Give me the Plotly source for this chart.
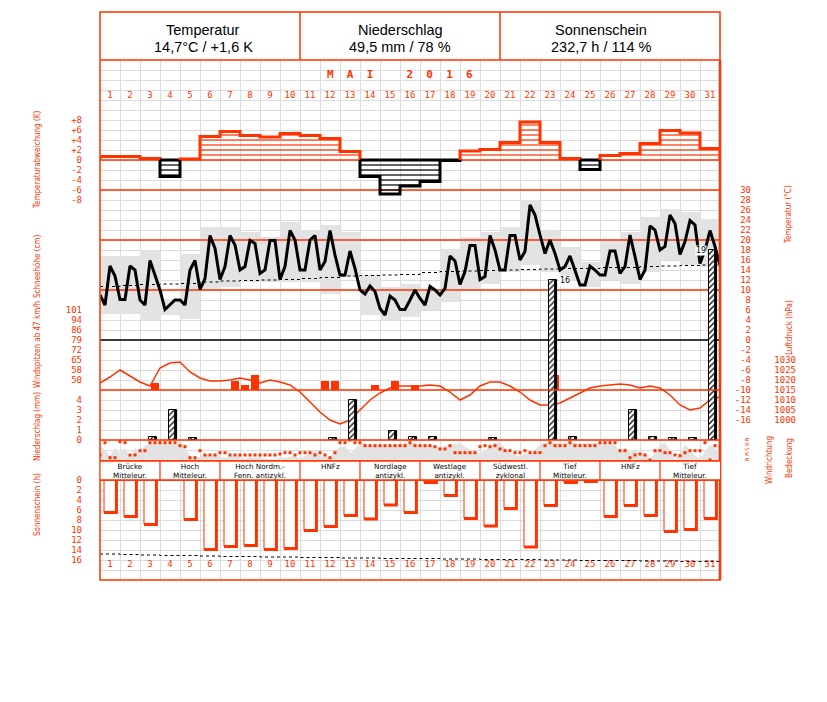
import plotly.graph_objects as go

# ---------------- data ----------------
days = list(range(1, 32))
month_title = "<b>M  A  I     2  0  1  6</b>"
header_titles = ["Temperatur", "Niederschlag", "Sonnenschein"]
header_values = ["14,7°C / +1,6 K", "49,5 mm / 78 %", "232,7 h / 114 %"]

# daily temperature deviation (K)
temp_dev = [0.7, 0.7, 0.3, -3.3, 0.2, 4.7, 5.7, 4.9, 4.6, 5.3, 4.9, 4.3, 1.7, -3.3, -6.8, -5.2,
            -4.3, -0.1, 1.8, 2.1, 3.5, 7.6, 3.5, 0.3, -1.9, 0.9, 1.3, 3.3, 5.9, 5.4, 2.3]

# 6-hourly air temperature (°C), 4 per day + final value
temp_6h = [9.0, 7.0, 14.8, 12.8, 8.1, 8.1, 14.8, 14.0, 8.0, 7.0, 15.9, 13.0, 10.0, 6.1, 7.0, 8.0,
           8.0, 7.0, 14.0, 15.9, 10.1, 12.3, 20.9, 18.3, 12.1, 14.7, 20.9, 19.0, 14.0, 14.7, 19.9, 19.3,
           13.3, 14.0, 19.9, 19.9, 12.1, 14.7, 21.9, 20.0, 14.0, 14.0, 20.0, 20.9, 14.0, 15.7, 21.9, 17.0,
           13.0, 13.0, 17.8, 14.3, 10.0, 9.2, 10.8, 9.7, 6.3, 5.0, 8.8, 8.0, 6.1, 6.1, 8.0, 10.0,
           8.3, 7.0, 10.7, 10.0, 9.0, 10.3, 16.8, 15.8, 11.1, 13.7, 18.9, 18.9, 12.1, 12.7, 20.9, 18.0,
           14.0, 14.0, 20.9, 20.9, 16.0, 17.7, 27.0, 25.0, 21.0, 17.3, 20.0, 17.3, 14.0, 14.7, 16.8, 14.0,
           11.0, 11.0, 14.8, 14.0, 13.0, 13.0, 17.8, 17.8, 13.3, 14.7, 21.0, 16.7, 12.1, 14.0, 22.8, 22.0,
           18.0, 18.7, 25.0, 23.3, 17.1, 19.7, 23.9, 23.0, 15.3, 18.0, 21.9, 18.7, 15.0]

temp_max = [16.8, 16.8, 18.0, 8.3, 17.3, 22.7, 22.7, 21.7, 20.7, 23.7, 22.0, 23.0, 21.7, 13.0, 10.7, 11.3,
            10.0, 18.3, 20.7, 21.7, 22.7, 28.0, 22.0, 18.7, 15.7, 20.0, 21.7, 24.7, 26.3, 25.7, 24.3]
temp_min = [5.3, 5.3, 4.0, 5.0, 4.3, 10.0, 10.7, 11.7, 11.7, 11.7, 11.7, 9.2, 12.7, 5.0, 4.0, 4.7,
            6.0, 7.7, 10.0, 11.3, 13.7, 15.0, 13.7, 12.0, 10.7, 12.0, 11.3, 13.7, 16.0, 15.0, 14.7]
temp_normal = [10.7, 10.9, 11.1, 11.2, 11.3, 11.6, 11.8, 11.9, 12.0, 12.1, 12.3, 12.5, 12.8, 12.9, 13.0, 13.1,
               13.5, 13.7, 13.8, 13.9, 14.0, 14.1, 14.2, 14.3, 14.3, 14.5, 14.5, 14.7, 14.8, 14.9, 15.0]

# wind gusts (km/h) per half day, 0 = none
gust_12h = [0, 0, 0, 0, 0, 48, 0, 0, 0, 0, 0, 0, 0, 50, 47, 54, 0, 0, 0, 0, 0, 0, 50, 50, 0, 0, 0, 47,
            0, 50, 0, 47, 0, 0, 0, 0, 0, 0, 0, 0, 0, 0, 0, 0, 0, 54, 0, 0, 0, 0, 0, 0, 0, 0, 0, 0,
            0, 0, 0, 0, 0, 0]

# air pressure (hPa), 2 per day + final
pressure = [1018.5, 1021.5, 1025, 1022, 1019, 1017, 1026, 1028.5, 1029, 1024, 1021, 1019.5, 1019.5, 1020,
            1021, 1020, 1018.5, 1020, 1019, 1017.5, 1014, 1009, 1004, 1000, 998, 1000, 1005, 1010, 1013.5,
            1016, 1017, 1017, 1017, 1017.5, 1017, 1014, 1010, 1012.5, 1017, 1019, 1019, 1017, 1014, 1010,
            1007.5, 1007.5, 1008.5, 1011, 1013.5, 1016, 1017, 1017.5, 1018, 1017.5, 1016, 1017, 1016,
            1012.5, 1007.5, 1005, 1006, 1010, 1011.5]

# precipitation (mm)
precip = [0, 0, 0.3, 3.0, 0.2, 0, 0, 0, 0, 0, 0, 0.2, 4.0, 0, 0.9, 0.3,
          0.3, 0, 0, 0.2, 0, 0, 16.0, 0.3, 0, 0, 3.0, 0.3, 0.2, 0.2, 19.0]

# sunshine duration (h) and astronomically possible duration
sun_hours = [6.5, 7.3, 8.9, 0, 7.9, 13.9, 13.3, 13.1, 13.9, 13.7, 10.1, 9.3, 7.1, 7.8, 5.0, 6.5,
             0.5, 3.1, 7.7, 9.2, 5.7, 13.4, 5.1, 0.5, 0.3, 7.3, 5.1, 7.1, 10.3, 9.9, 7.7]
sun_possible = [14.8, 14.9, 15.0, 15.1, 15.1, 15.2, 15.3, 15.3, 15.4, 15.4, 15.5, 15.5, 15.6, 15.6, 15.7, 15.7,
                15.7, 15.8, 15.8, 15.9, 15.9, 15.9, 16.0, 16.0, 16.1, 16.1, 16.1, 16.2, 16.2, 16.3, 16.3]

# cloud cover (octas), 4 per day + final
cloud_octa = [6.4, 4.4, 2.0, 5.1, 3.1, 5.1, 1.1, 5.1, 3.7, 6.0,
              7.1, 7.3, 7.1, 7.3, 7.1, 6.4, 7.7, 5.7, 1.7, 0.7,
              1.7, 3.1, 1.1, 3.1, 1.7, 1.1, 1.7, 1.7, 1.7, 0.7,
              1.7, 1.1, 1.7, 0.7, 0.7, 0.7, 1.1, 1.1, 1.7, 1.7,
              0.7, 2.0, 2.8, 4.4, 2.0, 1.7, 1.1, 4.4, 5.1, 6.0,
              3.1, 4.7, 7.1, 7.1, 5.7, 6.8, 6.4, 6.0, 5.7, 6.4,
              6.8, 7.1, 6.8, 7.3,
              5.7, 6.4, 6.4, 5.5, 5.1, 6.0, 6.4, 6.8, 7.1, 5.7,
              4.4, 3.1, 3.1, 4.1, 5.7, 7.3, 7.1, 5.1, 3.1, 2.4,
              1.7, 3.1, 2.8, 4.4, 6.4, 7.3, 7.1, 7.3, 7.1, 7.1,
              7.3, 7.1, 7.1, 7.1, 7.1, 7.3, 7.3, 7.1, 7.1, 6.4,
              3.1, 5.5, 3.3, 4.4, 2.8, 3.1, 0.7, 3.1, 6.4, 7.1,
              4.1, 0.4, 3.1, 6.4, 4.4, 2.0, 0.7, 3.7, 6.4, 5.1,
              3.1]

# wind direction (degrees), 4 per day + final
wind_dir = [270, 48, 318, 318, 30, 48, 270, 270, 192, 192,
            48, 48, 48, 48, 48, 48, 102, 120, 318, 318,
            192, 270, 270, 270, 228, 228, 270, 270, 270, 270,
            270, 270, 270, 270, 270, 270, 252, 228, 228, 270,
            228, 228, 228, 270, 228, 270, 318, 228, 48, 48,
            0, 48, 48, 102, 102, 102, 102, 102, 102, 102,
            102, 102, 48, 102,
            102, 102, 102, 120, 162, 162, 102, 228, 228, 228,
            228, 228, 120, 102, 120, 102, 162, 192, 192, 228,
            228, 192, 228, 228, 228, 102, 48, 102, 102, 102,
            48, 102, 102, 102, 102, 102, 48, 48, 48, 48,
            192, 192, 318, 270, 252, 270, 360, 192, 192, 228,
            228, 270, 282, 228, 192, 192, 192, 48, 360, 102,
            132]

weather_first_day = [1, 4, 7, 11, 14, 17, 20, 23, 26, 29]
weather_last_day = [3, 6, 10, 13, 16, 19, 22, 25, 28, 31]
weather_line1 = ["Brücke", "Hoch", "Hoch Nordm.-", "HNFz", "Nordlage", "Westlage", "Südwestl.", "Tief", "HNFz", "Tief"]
weather_line2 = ["Mitteleur.", "Mitteleur.", "Fenn. antizykl.", "", "antizykl.", "antizykl.", "zyklonal",
                 "Mitteleur.", "", "Mitteleur."]

dev_ticks = [8, 6, 4, 2, 0, -2, -4, -6, -8]
dev_labels = ["+8", "+6", "+4", "+2", "0", "-2", "-4", "-6", "-8"]
snow_ticks = [0, 2, 4, 6, 8, 10]
gust_ticks_ms = [14, 16, 18, 20, 22, 24, 26, 28]
gust_labels = ["50", "58", "65", "72", "79", "86", "94", "101"]
precip_ticks = [0, 1, 2, 3, 4]
sun_ticks = [0, 2, 4, 6, 8, 10, 12, 14, 16]
temp_ticks = list(range(-16, 31, 2))
pres_ticks = [1000, 1005, 1010, 1015, 1020, 1025, 1030]
dir_ticks = [0, 90, 180, 270, 360]
dir_labels = ["N", "O", "S", "W", "N"]

# ---------------- style / layout geometry ----------------
RED = "#ff3300"
GRID = "#dcdcdc"
BAND = "#e3e3e3"
OFF = 8                      # page body margin
FW, FH = 827 - 2 * OFF, 702 - 2 * OFF
FX0, FX1, FY0, FY1, GY0 = 100, 720, 12, 580, 60


def pxx(x):
    return (x - OFF) / FW


def pxy(y):
    return (FH - (y - OFF)) / FH


def lin_range(va, pa, vb, pb):
    k = (vb - va) / (pb - pa)
    return [va + (FY1 - pa) * k, va + (GY0 - pa) * k]


AX = {  # value/pixel anchors for each panel
    "sun": (0, 480, 16, 560),
    "cloud": (0, 461, 8, 441),
    "dir": (0, 440, 360, 460),
    "temp": (30, 190, -16, 420),
    "dev": (8, 120, -8, 200),
    "gust": (28, 310, 14, 380),
    "pres": (1030, 360, 1000, 420),
    "prec": (4, 400, 0, 440),
    "snow": (10, 240, 0, 290),
}

fig = go.Figure()
t_q = [0.5 + i * 0.25 for i in range(len(temp_6h))]
t_h = [0.5 + i * 0.5 for i in range(len(pressure))]
t_12 = [0.75 + i * 0.5 for i in range(len(gust_12h))]

# --- sunshine (y2) ---
sx_l, sx_r = -0.3, 0.32
fig.add_trace(go.Bar(x=days, y=sun_hours, width=sx_r - sx_l, offset=sx_l, marker=dict(color="white", line=dict(width=0)),
                     xaxis="x", yaxis="y2", hoverinfo="skip"))
thin_x, thin_y, thick_x, thick_y = [], [], [], []
for d, v in zip(days, sun_hours):
    if v <= 0:
        continue
    thin_x += [d + sx_l, d + sx_l, None]
    thin_y += [0, v, None]
    thick_x += [d + sx_l, d + sx_r, d + sx_r, None]
    thick_y += [v, v, 0, None]
fig.add_trace(go.Scatter(x=thin_x, y=thin_y, mode="lines", line=dict(color=RED, width=1), yaxis="y2", hoverinfo="skip"))
fig.add_trace(go.Scatter(x=thick_x, y=thick_y, mode="lines", line=dict(color=RED, width=3), yaxis="y2", hoverinfo="skip"))
fig.add_trace(go.Scatter(x=[d - 0.5 for d in days] + [31.5], y=sun_possible + [sun_possible[-1]], mode="lines",
                         line=dict(color="black", width=1, dash="dot", shape="hv"), yaxis="y2", hoverinfo="skip"))
fig.add_trace(go.Scatter(x=[0.5, 31.5], y=[0, 0], mode="lines", line=dict(color=RED, width=1.5), yaxis="y2", hoverinfo="skip"))

# --- cloud cover (y3) ---
fig.add_trace(go.Scatter(x=t_q, y=cloud_octa, mode="lines", fill="tozeroy", fillcolor=BAND,
                         line=dict(color=BAND, width=0.5), yaxis="y3", hoverinfo="skip"))
fig.add_trace(go.Scatter(x=[0.5, 31.5], y=[0, 0], mode="lines", line=dict(color=RED, width=1.5), yaxis="y3", hoverinfo="skip"))

# --- wind direction (y4) ---
fig.add_trace(go.Scatter(x=t_q, y=wind_dir, mode="markers", marker=dict(color=RED, size=3, symbol="square"),
                         yaxis="y4", hoverinfo="skip"))

# --- temperature (y5) ---
fig.add_trace(go.Bar(x=days, y=[a - b for a, b in zip(temp_max, temp_min)], base=temp_min, width=1,
                     marker=dict(color=BAND, line=dict(width=0)), yaxis="y5", hoverinfo="skip"))
for lv, col in [(30, RED), (20, RED), (10, RED), (0, "black")]:
    fig.add_trace(go.Scatter(x=[0.5, 31.5], y=[lv, lv], mode="lines", line=dict(color=col, width=1.3),
                             yaxis="y5", hoverinfo="skip"))
fig.add_trace(go.Scatter(x=[d - 0.5 for d in days] + [31.5], y=temp_normal + [temp_normal[-1]], mode="lines",
                         line=dict(color="black", width=1, dash="dot", shape="hv"), yaxis="y5", hoverinfo="skip"))
fig.add_trace(go.Scatter(x=t_q, y=temp_6h, mode="lines", line=dict(color="black", width=3), yaxis="y5", hoverinfo="skip"))

# --- temperature deviation (y6) ---
fig.add_trace(go.Scatter(x=[0.5, 31.5], y=[0, 0], mode="lines", line=dict(color=RED, width=1.3), yaxis="y6", hoverinfo="skip"))
runs, cur = [], []
for d, v in zip(days, temp_dev):
    if cur and (cur[-1][1] > 0) != (v > 0):
        runs.append(cur)
        cur = []
    cur.append((d, v))
runs.append(cur)
for run in runs:
    pos = run[0][1] > 0
    col = RED if pos else "black"
    hx, hy = [], []
    for d, v in run:
        sgn = 1 if v > 0 else -1
        for k in range(1, int(abs(v)) + 1):
            hx += [d - 0.5, d + 0.5, None]
            hy += [k * sgn, k * sgn, None]
    if hx:
        fig.add_trace(go.Scatter(x=hx, y=hy, mode="lines", line=dict(color=col, width=1.2), yaxis="y6", hoverinfo="skip"))
    ox, oy = [run[0][0] - 0.5], [0]
    for d, v in run:
        ox += [d - 0.5, d + 0.5]
        oy += [v, v]
    ox.append(run[-1][0] + 0.5)
    oy.append(0)
    if not pos:
        ox.append(run[0][0] - 0.5)
        oy.append(0)
    fig.add_trace(go.Scatter(x=ox, y=oy, mode="lines", line=dict(color=col, width=3), yaxis="y6", hoverinfo="skip"))

# --- wind gusts (y7) ---
g_t = [t for t, g in zip(t_12, gust_12h) if g > 0]
g_v = [g / 3.6 - 12 for g in gust_12h if g > 0]
fig.add_trace(go.Bar(x=g_t, y=g_v, base=12, width=0.38, marker=dict(color=RED, line=dict(width=0)), yaxis="y7",
                     hoverinfo="skip"))

# --- pressure (y8) ---
fig.add_trace(go.Scatter(x=t_h, y=pressure, mode="lines", line=dict(color=RED, width=1.5), yaxis="y8", hoverinfo="skip"))

# --- precipitation (y9) ---
p_d = [d for d, p in zip(days, precip) if p > 0]
p_v = [p for p in precip if p > 0]
px_l, px_r = -0.05, 0.35
fig.add_trace(go.Bar(x=p_d, y=p_v, width=px_r - px_l, offset=px_l,
                     marker=dict(color="white", line=dict(color="black", width=1),
                                 pattern=dict(shape="/", fgcolor="black", bgcolor="white", size=4, solidity=0.3)),
                     yaxis="y9", hoverinfo="skip"))
rx, ry = [], []
for d, p in zip(p_d, p_v):
    rx += [d + px_r - 0.07, d + px_r - 0.07, None]
    ry += [0, p, None]
fig.add_trace(go.Scatter(x=rx, y=ry, mode="lines", line=dict(color="black", width=3), yaxis="y9", hoverinfo="skip"))
for lv in [5, 0]:
    fig.add_trace(go.Scatter(x=[0.5, 31.5], y=[lv, lv], mode="lines", line=dict(color=RED, width=1.3),
                             yaxis="y9", hoverinfo="skip"))

# --- day numbers (base y, pixel rows) ---
for row in [(FY1 - 96) / 10, (FY1 - 565) / 10]:
    fig.add_trace(go.Scatter(x=days, y=[row] * 31, mode="text", text=[str(d) for d in days],
                             textfont=dict(color=RED, size=9, family="DejaVu Sans Mono"), yaxis="y", hoverinfo="skip"))

# ---------------- axes ----------------
tickfont = dict(color=RED, size=9, family="DejaVu Sans Mono")
L_POS, T_POS, P_POS = pxx(82), pxx(751), pxx(796)


def yaxis(key, pos, vals, text=None, side="left", font=tickfont, angle=None):
    r = lin_range(*AX[key])
    d = dict(overlaying="y", anchor="free", position=pos, side=side, range=r, tickvals=vals,
             ticktext=text if text else [str(v) for v in vals], showgrid=False, zeroline=False,
             showline=False, ticks="", tickfont=font, fixedrange=True)
    if angle is not None:
        d["tickangle"] = angle
    return d


fig.update_layout(
    width=FW, height=FH, margin=dict(l=0, r=0, t=0, b=0), template="none",
    paper_bgcolor="white", plot_bgcolor="white", showlegend=False, barmode="overlay", bargap=0,
    xaxis=dict(domain=[pxx(FX0), pxx(FX1)], range=[0.5, 31.5], tickvals=[d - 0.5 for d in days] + [31.5],
               showticklabels=False, showgrid=True, gridcolor=GRID, gridwidth=1.2, zeroline=False,
               showline=False, ticks="", anchor="y", fixedrange=True),
    yaxis=dict(domain=[pxy(FY1), pxy(GY0)], range=[0, 52], dtick=1, showgrid=True, gridcolor=GRID, gridwidth=1.2,
               showticklabels=False, zeroline=False, showline=False, ticks="", fixedrange=True),
    yaxis2=yaxis("sun", L_POS, sun_ticks),
    yaxis3=dict(yaxis("cloud", L_POS, []), showticklabels=False),
    yaxis4=yaxis("dir", pxx(751), dir_ticks, dir_labels, font=dict(color=RED, size=5.5, family="DejaVu Sans Mono"),
                 angle=90),
    yaxis5=yaxis("temp", T_POS, temp_ticks),
    yaxis6=yaxis("dev", L_POS, dev_ticks, dev_labels),
    yaxis7=yaxis("gust", L_POS, gust_ticks_ms, gust_labels),
    yaxis8=yaxis("pres", P_POS, pres_ticks),
    yaxis9=yaxis("prec", L_POS, precip_ticks),
    yaxis10=yaxis("snow", L_POS, snow_ticks),
)

# ---------------- frame, header, weather types ----------------
shapes = []
ann = []


def pshape(x0, y0, x1, y1, color=RED, width=1.5, fill=None, kind="line", layer="above"):
    d = dict(type=kind, xref="paper", yref="paper", x0=pxx(x0), x1=pxx(x1), y0=pxy(y0), y1=pxy(y1),
             line=dict(color=color, width=width), layer=layer)
    if fill:
        d["fillcolor"] = fill
    return d


def note(text, x, y, size, color="black", family="DejaVu Sans", xref="paper", angle=0, **kw):
    d = dict(x=x, y=pxy(y), xref=xref, yref="paper", text=text, showarrow=False, xanchor="center",
             yanchor="middle", textangle=angle, font=dict(size=size, color=color, family=family))
    d.update(kw)
    return d


shapes.append(pshape(FX0, FY0, FX1, FY1, kind="rect", width=1.5))
shapes.append(pshape(FX0, GY0, FX1, GY0))
for xb in [300, 500]:
    shapes.append(pshape(xb, FY0, xb, GY0))
shapes.append(pshape(FX1, GY0, FX1, FY1, width=2.5))

# weather type row (461..480)
shapes.append(pshape(FX0, 461, FX1, 480, kind="rect", fill="white", width=0))
shapes.append(pshape(FX0, 461, FX1, 461))
shapes.append(pshape(FX0, 480, FX1, 480))
for fd, ld, l1, l2 in zip(weather_first_day, weather_last_day, weather_line1, weather_line2):
    xa = fd - 0.5
    xb = ld + 0.5
    shapes.append(dict(type="line", xref="x", yref="paper", x0=xa, x1=xa, y0=pxy(461), y1=pxy(480),
                       line=dict(color=RED, width=1.2), layer="above"))
    xm = (xa + xb) / 2
    if l2:
        ann.append(note(l1 + "<br>" + l2, xm, 470.5, 7.2, xref="x"))
    else:
        ann.append(note(l1, xm, 466, 7.2, xref="x"))

# header
for t, v, cx in zip(header_titles, header_values, [203, 400, 601]):
    ann.append(note(t, pxx(cx), 30, 14.5, family="Liberation Sans"))
    ann.append(note(v, pxx(cx), 47, 14.5, family="Liberation Sans"))
ann.append(note(month_title, pxx(400), 74, 11, color=RED, family="DejaVu Sans Mono"))

# precipitation labels beyond the panel
for d, p in zip(p_d, p_v):
    if p > 4:
        ann.append(dict(x=d + px_r, y=p, xref="x", yref="y9", text=f"{p:g}", showarrow=False,
                        xanchor="left" if d < 30 else "right", yanchor="middle", xshift=2 if d < 30 else -10,
                        bgcolor="white", borderpad=0, font=dict(size=8, color="black", family="DejaVu Sans")))

# axis titles
tf = "Liberation Sans Narrow, DejaVu Sans Condensed, Liberation Sans"
for text, x, y in [("Temperaturabweichung (K)", 37, 160), ("Schneehöhe (cm)", 37, 266),
                   ("Windspitzen ab 47 km/h", 37, 345), ("Niederschlag (mm)", 37, 427),
                   ("Sonnenschein (h)", 37, 505), ("Temperatur (°C)", 789, 215), ("Luftdruck (hPa)", 789, 328),
                   ("Windrichtung", 769, 460), ("Bedeckung", 790, 458)]:
    ann.append(note(text, pxx(x), y, 8, color=RED, family=tf, angle=-90))

fig.update_layout(shapes=shapes, annotations=ann)
fig.write_html("out.html")
